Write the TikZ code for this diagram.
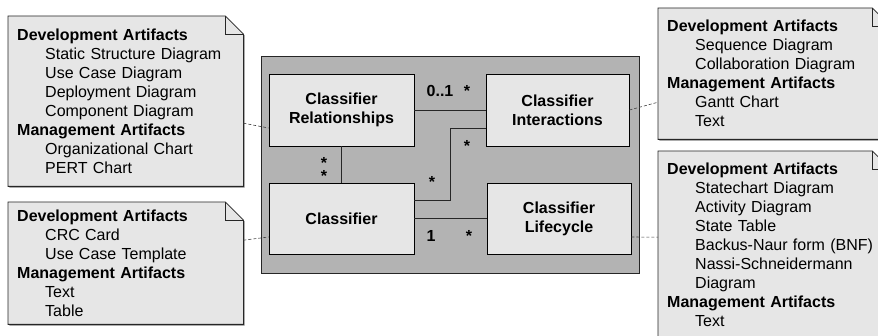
\documentclass[tikz,border=0pt]{standalone}
\usepackage{fontspec}
\setmainfont{Liberation Sans}
\usetikzlibrary{shadows,backgrounds}
\definecolor{notegray}{HTML}{E6E6E6}
\definecolor{pkggray}{HTML}{B3B3B3}
\newcommand\arthead[1]{\textbf{#1}}
\newcommand\artitem[1]{\hspace*{28pt}#1}

\begin{document}
\begin{tikzpicture}[x=1pt,y=-1pt,
    every node/.style={font=\fontsize{16}{19}\selectfont},
    pkgbox/.style={draw=black!85, fill=pkggray, line width=0.9pt,
        minimum width=378pt, minimum height=217pt,
        drop shadow={shadow xshift=1.3pt, shadow yshift=-1.3pt, fill=black!70, opacity=1}},
    classbox/.style={draw, fill=notegray, line width=0.8pt, align=center,
        font=\bfseries\fontsize{16}{19}\selectfont,
        drop shadow={shadow xshift=1.3pt, shadow yshift=-1.3pt, fill=black, opacity=1}},
    artnote/.style={anchor=north west, align=left, inner xsep=9pt, inner ysep=0pt},
    notebody/.style={draw=black!85, fill=notegray, line width=0.8pt,
        drop shadow={shadow xshift=1.3pt, shadow yshift=-1.3pt, fill=black!50, opacity=1}},
    mult/.style={anchor=base, inner sep=0pt, font=\bfseries\fontsize{16}{19}\selectfont},
    assoc/.style={draw=black!85, line width=0.8pt},
    notelink/.style={draw=black!75, line width=0.6pt, dash pattern=on 3pt off 2pt}]

\useasboundingbox (0,0) rectangle (878,336);
\clip (0,0) rectangle (878,336);

% package and its classes
\node (pkg) at (450,164.5) [pkgbox] {};
\node (rel) at (341.5,110) [classbox, minimum width=145pt, minimum height=72pt] {Classifier\\Relationships};
\node (inter) at (557.5,110) [classbox, minimum width=143pt, minimum height=72pt] {Classifier\\Interactions};
\node (cls) at (341.5,218.5) [classbox, minimum width=145pt, minimum height=71pt] {Classifier};
\node (life) at (559,218.5) [classbox, minimum width=144pt, minimum height=71pt] {Classifier\\Lifecycle};

\draw [assoc] (rel) -- (inter);
\draw [assoc] (rel) -- (cls);
\draw [assoc] (cls) -- (life);
\draw [assoc] ([yshift=18.5pt]cls.east) -- ++(36,0) |- ([yshift=-18pt]inter.west);

\node (m1) at (440,97) [mult] {0..1};
\node (m2) at (467,97) [mult] {*};
\node (m3) at (324,169.5) [mult, anchor=center, align=center,
    font=\bfseries\fontsize{16}{13}\selectfont] {*\\*};
\node (m5) at (432,188) [mult] {*};
\node (m6) at (467,152) [mult] {*};
\node (m7) at (431,242) [mult] {1};
\node (m8) at (469,242) [mult] {*};

% artifact notes
\node (relnote) at (8,16) [artnote, text width=217pt, minimum height=170pt]
  {\arthead{Development Artifacts}\\ \artitem{Static Structure Diagram}\\ \artitem{Use Case Diagram}\\
   \artitem{Deployment Diagram}\\ \artitem{Component Diagram}\\ \arthead{Management Artifacts}\\
   \artitem{Organizational Chart}\\ \artitem{PERT Chart}};
\node (clsnote) at (8,202) [artnote, text width=217pt, minimum height=122pt]
  {\arthead{Development Artifacts}\\ \artitem{CRC Card}\\ \artitem{Use Case Template}\\
   \arthead{Management Artifacts}\\ \artitem{Text}\\ \artitem{Table}};
\node (internote) at (658,8) [artnote, text width=214pt, minimum height=131pt]
  {\arthead{Development Artifacts}\\ \artitem{Sequence Diagram}\\ \artitem{Collaboration Diagram}\\
   \arthead{Management Artifacts}\\ \artitem{Gantt Chart}\\ \artitem{Text}};
\node (lifenote) at (658,151) [artnote, text width=214pt, minimum height=188pt]
  {\arthead{Development Artifacts}\\ \artitem{Statechart Diagram}\\ \artitem{Activity Diagram}\\
   \artitem{State Table}\\ \artitem{Backus-Naur form (BNF)}\\ \artitem{Nassi-Schneidermann}\\
   \artitem{Diagram}\\ \arthead{Management Artifacts}\\ \artitem{Text}};

\begin{scope}[on background layer]
  \clip (0,0) rectangle (878,336);
  \foreach \n in {relnote,clsnote,internote,lifenote} {
    \path [notebody] (\n.north west) -- ([xshift=-18pt]\n.north east) -- ([yshift=-18pt]\n.north east)
      -- (\n.south east) -- (\n.south west) -- cycle;
    \draw [black!85, line width=0.8pt] ([xshift=-18pt]\n.north east) |- ([yshift=-18pt]\n.north east);
  }
\end{scope}

\draw [notelink] ([yshift=-22pt]relnote.east) -- ([yshift=-18pt]rel.west);
\draw [notelink] ([yshift=23pt]clsnote.east) -- ([yshift=-18.5pt]cls.west);
\draw [notelink] (inter.east) -- ([yshift=-28.5pt]internote.west);
\draw [notelink] ([yshift=-18.5pt]life.east) -- ([yshift=8pt]lifenote.west);

\end{tikzpicture}
\end{document}
